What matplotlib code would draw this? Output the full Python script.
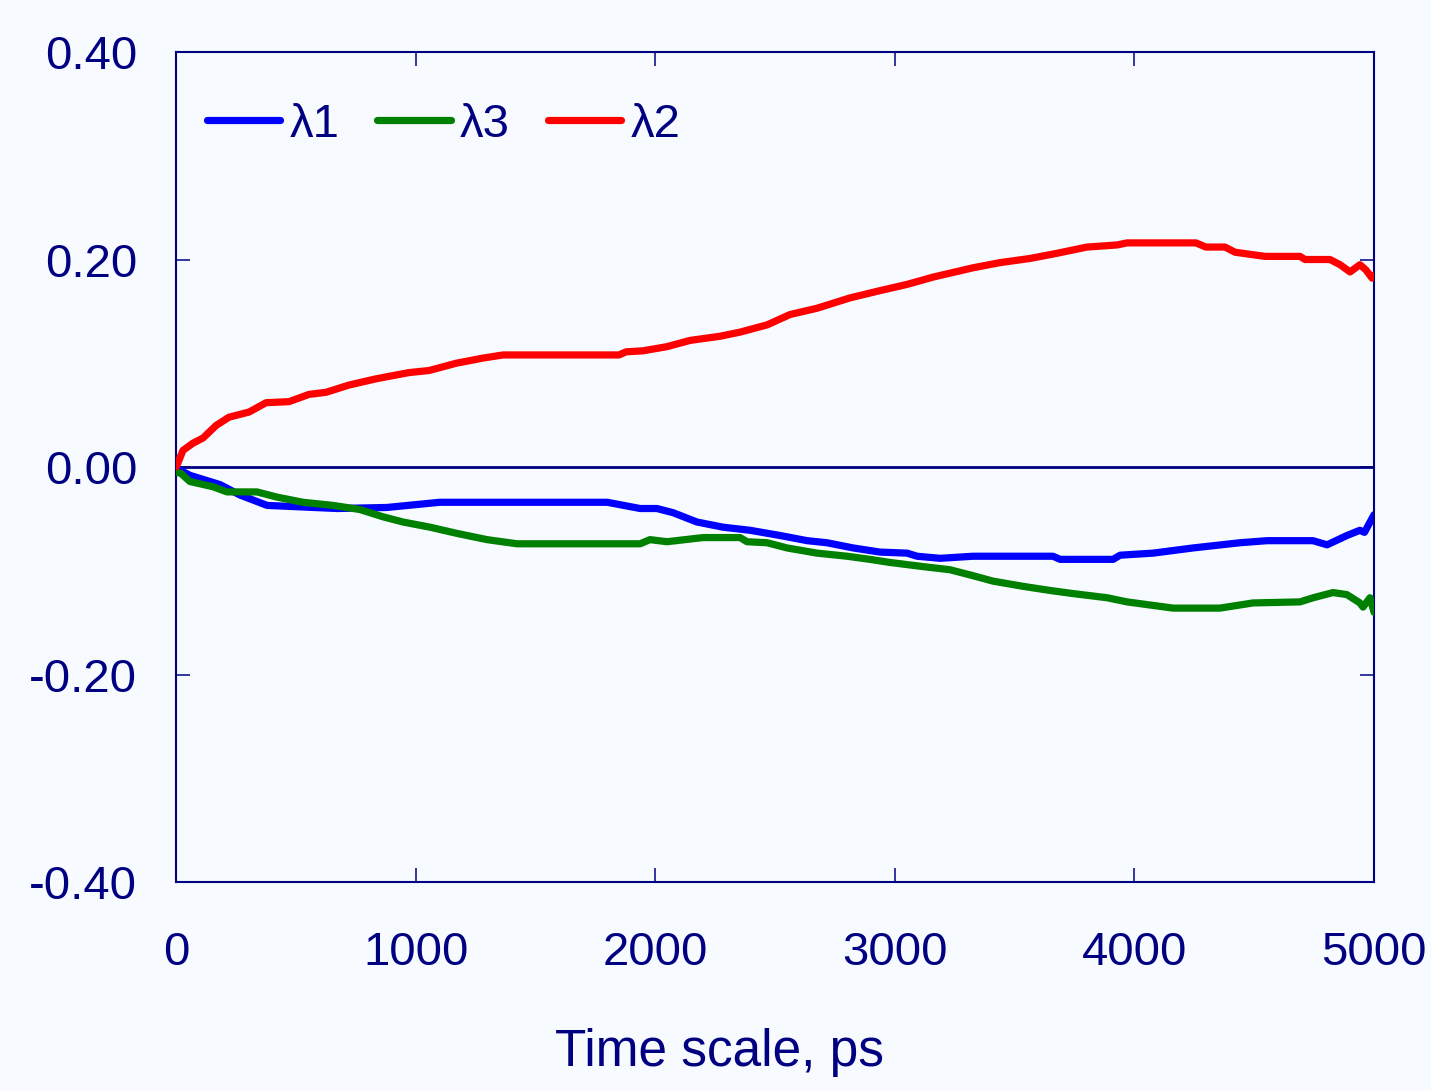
import matplotlib
matplotlib.use("Agg")
import matplotlib.pyplot as plt

# valores
t_l1 = [0, 58, 184, 267, 380, 672, 880, 1100, 1800, 1937, 2007, 2074, 2174, 2283,
        2396, 2521, 2634, 2717, 2826, 2938, 3051, 3093, 3189, 3326, 3660, 3690,
        3911, 3940, 4078, 4245, 4440, 4553, 4745, 4804, 4887, 4941, 4960, 5000]
l1 = [-0.001, -0.008, -0.017, -0.027, -0.037, -0.040, -0.039, -0.034, -0.034, -0.040,
      -0.040, -0.044, -0.053, -0.058, -0.061, -0.066, -0.071, -0.073, -0.078, -0.082,
      -0.083, -0.086, -0.088, -0.086, -0.086, -0.089, -0.089, -0.085, -0.083, -0.078,
      -0.073, -0.071, -0.071, -0.075, -0.066, -0.061, -0.063, -0.046]

t_l3 = [0, 20, 58, 154, 213, 338, 421, 530, 655, 768, 864, 947, 1060, 1173, 1298,
        1423, 1937, 1978, 2049, 2200, 2354, 2383, 2467, 2550, 2675, 2801, 2896,
        2980, 3118, 3230, 3314, 3410, 3535, 3648, 3744, 3886, 3969, 4065, 4161,
        4357, 4495, 4691, 4746, 4829, 4887, 4941, 4954, 4983, 5000]
l3 = [-0.005, -0.006, -0.014, -0.019, -0.024, -0.024, -0.029, -0.034, -0.037, -0.041,
      -0.048, -0.053, -0.058, -0.064, -0.070, -0.074, -0.074, -0.070, -0.072, -0.068,
      -0.068, -0.072, -0.073, -0.078, -0.083, -0.086, -0.089, -0.092, -0.096, -0.099,
      -0.104, -0.110, -0.115, -0.119, -0.122, -0.126, -0.130, -0.133, -0.136, -0.136,
      -0.131, -0.130, -0.126, -0.121, -0.123, -0.131, -0.135, -0.126, -0.140]

t_l2 = [0, 8, 29, 71, 113, 167, 221, 305, 376, 472, 555, 626, 722, 835, 972, 1056,
        1169, 1281, 1365, 1849, 1878, 1949, 2049, 2145, 2270, 2354, 2467, 2563, 2675,
        2813, 2938, 3051, 3159, 3326, 3439, 3564, 3677, 3802, 3927, 3969, 4257, 4298,
        4378, 4420, 4545, 4691, 4712, 4816, 4858, 4900, 4941, 4966, 4992, 5000]
l2 = [0.0, 0.004, 0.016, 0.023, 0.028, 0.040, 0.048, 0.053, 0.062, 0.063, 0.070,
      0.072, 0.079, 0.085, 0.091, 0.093, 0.100, 0.105, 0.108, 0.108, 0.111, 0.112,
      0.116, 0.122, 0.126, 0.130, 0.137, 0.147, 0.153, 0.163, 0.170, 0.176, 0.183,
      0.192, 0.197, 0.201, 0.206, 0.212, 0.214, 0.216, 0.216, 0.212, 0.212, 0.207,
      0.203, 0.203, 0.200, 0.200, 0.195, 0.188, 0.195, 0.190, 0.182, 0.185]

x_ticks = [0, 1000, 2000, 3000, 4000, 5000]
y_ticks = [-0.40, -0.20, 0.00, 0.20, 0.40]

navy = '#000080'
bg = '#F7FBFF'

plt.rcParams['font.family'] = ['Liberation Sans', 'DejaVu Sans']
plt.rcParams['axes.unicode_minus'] = False

fig = plt.figure(figsize=(14.31, 10.9), dpi=100, facecolor=bg)
ax = fig.add_axes([0.1230, 0.1908, 0.8372, 0.7615], facecolor=bg)

ax.axhline(0, color=navy, lw=2.0, zorder=1)
ax.plot(t_l1, l1, color='#0000FF', lw=5.2, label='λ1', solid_capstyle='round', zorder=2)
ax.plot(t_l3, l3, color='#008000', lw=5.2, label='λ3', solid_capstyle='round', zorder=3)
ax.plot(t_l2, l2, color='#FF0000', lw=5.2, label='λ2', solid_capstyle='round', zorder=4)

ax.set_xlim(0, 5000)
ax.set_ylim(-0.4, 0.4)
ax.set_xticks(x_ticks)
ax.set_yticks(y_ticks)
ax.set_yticklabels(['%.2f' % v for v in y_ticks])
ax.tick_params(axis='both', direction='in', length=10, width=1.1, color=navy,
               labelcolor=navy, labelsize=34, top=True, right=True)
ax.tick_params(axis='x', pad=35)
ax.tick_params(axis='y', pad=28)
for s in ax.spines.values():
    s.set_color(navy)
    s.set_linewidth(1.5)

fig.text(0.503, 0.034, 'Time scale, ps', color=navy, fontsize=37,
         ha='center', va='center')

leg = ax.legend(loc='upper left', bbox_to_anchor=(0.026, 0.939), ncol=3,
                frameon=False, fontsize=34, handlelength=1.55, handletextpad=0.2,
                columnspacing=0.8, borderpad=0, borderaxespad=0)
for txt in leg.get_texts():
    txt.set_color(navy)

plt.savefig('out.png', dpi=100, facecolor=bg)
